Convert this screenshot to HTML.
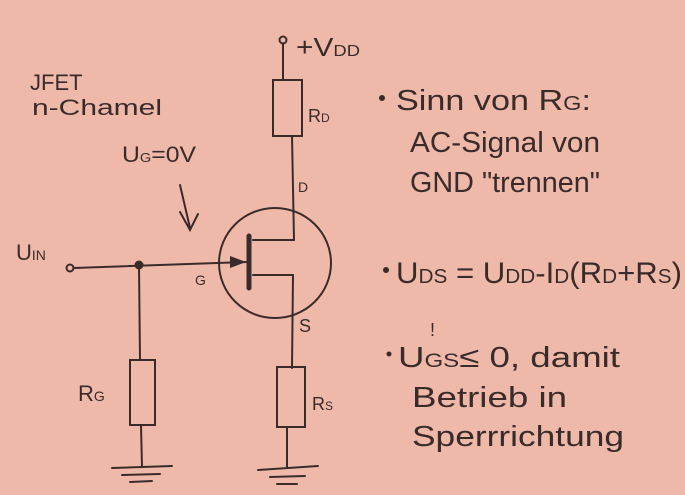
<!DOCTYPE html>
<html><head><meta charset="utf-8"><style>
html,body{margin:0;padding:0;background:#efb9a9;}
svg{display:block}
text{font-family:"Liberation Sans",sans-serif;fill:#3a2b2b;}
</style></head><body>
<svg width="685" height="495" viewBox="0 0 685 495" xmlns="http://www.w3.org/2000/svg">
<rect width="685" height="495" fill="#efb9a9"/>
<g stroke="#3a2b2b" stroke-width="2" fill="none" stroke-linecap="round">
<!-- VDD -->
<circle cx="283" cy="40" r="3.5"/>
<line x1="283" y1="44" x2="283" y2="80"/>
<rect x="273" y="80" width="29" height="56"/>
<line x1="292" y1="136" x2="294" y2="240"/>
<!-- transistor circle -->
<ellipse cx="275" cy="263" rx="56" ry="55"/>
<line x1="294" y1="240" x2="253" y2="240"/>
<line x1="253" y1="275" x2="293" y2="275"/>
<line x1="293" y1="275" x2="292" y2="368"/>
<line x1="249" y1="236" x2="249" y2="288" stroke-width="5"/>
<!-- gate -->
<circle cx="70" cy="268" r="3.5"/>
<line x1="74" y1="268" x2="246" y2="262"/>
<line x1="139" y1="265" x2="140" y2="360"/>
<!-- RG -->
<rect x="130" y="360" width="25" height="65"/>
<line x1="141" y1="425" x2="142" y2="467"/>
<line x1="112" y1="468" x2="172" y2="466"/>
<line x1="122" y1="475" x2="160" y2="474"/>
<line x1="130" y1="482" x2="152" y2="481"/>
<!-- RS -->
<rect x="277" y="367" width="28" height="60"/>
<line x1="287" y1="427" x2="287" y2="467"/>
<line x1="258" y1="470" x2="318" y2="466"/>
<line x1="270" y1="477" x2="305" y2="476"/>
<line x1="277" y1="484" x2="297" y2="484"/>
<!-- arrow UG -->
<line x1="180" y1="185" x2="190" y2="228"/>
<polyline points="180,212 190,230 198,214"/>
</g>
<circle cx="139" cy="265" r="4.5" fill="#3a2b2b"/>
<polygon points="230,256 246,262 230,268" fill="#3a2b2b"/>
<circle cx="382" cy="98" r="3" fill="#3a2b2b"/>
<circle cx="386" cy="270" r="3" fill="#3a2b2b"/>
<circle cx="389" cy="354" r="2.5" fill="#3a2b2b"/>
<!-- labels -->
<text x="296" y="56" font-size="26" textLength="64" lengthAdjust="spacingAndGlyphs">+V<tspan font-size="16">DD</tspan></text>
<text x="308" y="122" font-size="18">R<tspan font-size="12">D</tspan></text>
<text x="298" y="192" font-size="14">D</text>
<text x="299" y="332" font-size="18">S</text>
<text x="312" y="410" font-size="18">R<tspan font-size="12">S</tspan></text>
<text x="78" y="401" font-size="22">R<tspan font-size="14">G</tspan></text>
<text x="195" y="285" font-size="14">G</text>
<text x="16" y="260" font-size="22">U<tspan font-size="14">IN</tspan></text>
<text x="30" y="90" font-size="22">JFET</text>
<text x="32" y="115" font-size="22" textLength="130" lengthAdjust="spacingAndGlyphs">n-Chamel</text>
<text x="122" y="162" font-size="22" textLength="74" lengthAdjust="spacingAndGlyphs">U<tspan font-size="13">G</tspan>=0V</text>
<text x="396" y="110" font-size="29" textLength="195" lengthAdjust="spacingAndGlyphs">Sinn von R<tspan font-size="20">G</tspan>:</text>
<text x="410" y="152" font-size="29" textLength="190" lengthAdjust="spacingAndGlyphs">AC-Signal von</text>
<text x="410" y="192" font-size="29" textLength="190" lengthAdjust="spacingAndGlyphs">GND "trennen"</text>
<text x="396" y="283" font-size="30" textLength="286" lengthAdjust="spacingAndGlyphs">U<tspan font-size="20">DS</tspan> = U<tspan font-size="20">DD</tspan>-I<tspan font-size="20">D</tspan>(R<tspan font-size="20">D</tspan>+R<tspan font-size="20">S</tspan>)</text>
<text x="398" y="367" font-size="29" textLength="222" lengthAdjust="spacingAndGlyphs">U<tspan font-size="19">GS</tspan>≤ 0, damit</text>
<text x="430" y="336" font-size="18">!</text>
<text x="412" y="407" font-size="29" textLength="155" lengthAdjust="spacingAndGlyphs">Betrieb in</text>
<text x="412" y="446" font-size="29" textLength="212" lengthAdjust="spacingAndGlyphs">Sperrrichtung</text>
</svg>
</body></html>
